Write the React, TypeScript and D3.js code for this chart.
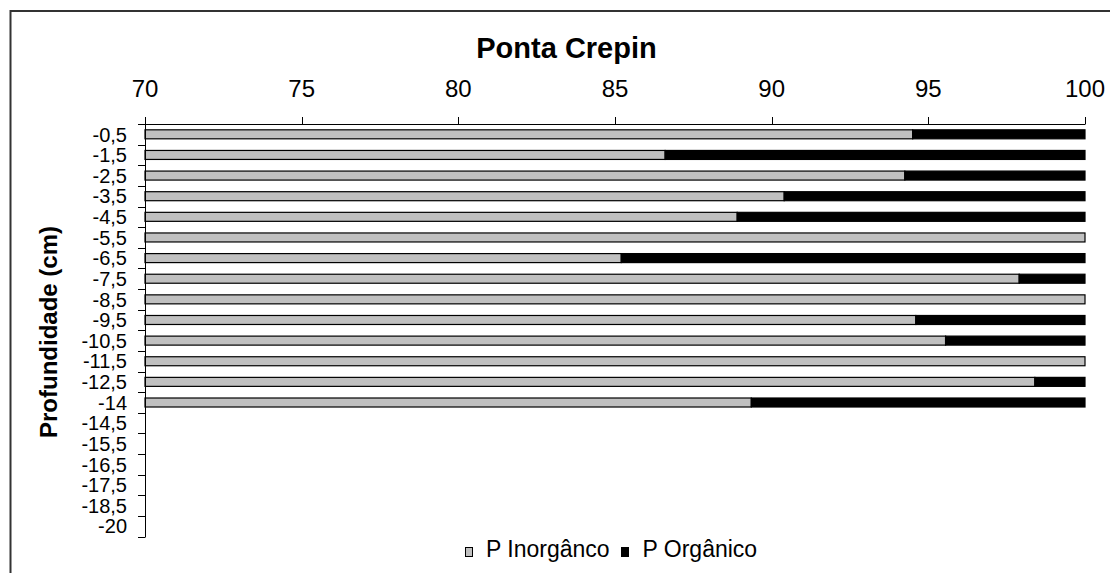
import React from "react";
import * as d3 from "d3";

const title = "Ponta Crepin";
const yTitle = "Profundidade (cm)";
const categories = ["-0,5","-1,5","-2,5","-3,5","-4,5","-5,5","-6,5","-7,5","-8,5","-9,5","-10,5","-11,5","-12,5","-14","-14,5","-15,5","-16,5","-17,5","-18,5","-20"];
const inorganic: (number | null)[] = [94.5, 86.6, 94.25, 90.4, 88.9, 100, 85.2, 97.9, 100, 94.6, 95.55, 100, 98.4, 89.35, null, null, null, null, null, null];
const organic: (number | null)[] = [5.5, 13.4, 5.75, 9.6, 11.1, 0, 14.8, 2.1, 0, 5.4, 4.45, 0, 1.6, 10.65, null, null, null, null, null, null];
const xTicks = [70, 75, 80, 85, 90, 95, 100];
const seriesNames = ["P Inorgânco", "P Orgânico"];
const seriesColors = ["#c0c0c0", "#000000"];

const W = 1110, H = 573;
const FONT = "'Liberation Sans', Arial, sans-serif";

export default function App() {
  const x = d3.scaleLinear().domain([70, 100]).range([145, 1085]).clamp(true);
  const y = d3.scaleBand().domain(categories).range([124, 536.6]).paddingInner(0).paddingOuter(0);
  const bw = y.bandwidth();
  const barH = 9;

  const rows = categories.map((c, i) => ({ c, inorg: inorganic[i], org: organic[i] }));
  const boundaries = d3.range(categories.length + 1).map((i) => 124 + i * bw);

  return (
    <svg width={W} height={H} style={{ position: "absolute", left: 0, top: 0, background: "#fff" }} fontFamily={FONT}>
      <rect x={0} y={0} width={W} height={H} fill="#fff" />
      <rect x={10.5} y={11} width={W + 20} height={H + 20} fill="none" stroke="#333" strokeWidth={2} />
      <text x={566.5} y={57.5} textAnchor="middle" fontSize={29} fontWeight="bold" fill="#000">{title}</text>

      {/* top x axis */}
      <line x1={x(70)} x2={x(100)} y1={124.5} y2={124.5} stroke="#000" strokeWidth={1} />
      {xTicks.map((t) => (
        <g key={t}>
          <line x1={Math.round(x(t)) + 0.5} x2={Math.round(x(t)) + 0.5} y1={117} y2={124.5} stroke="#000" strokeWidth={1} />
          <text x={x(t)} y={96.5} textAnchor="middle" fontSize={24} fill="#000">{t}</text>
        </g>
      ))}

      {/* bars */}
      {rows.map((r) => {
        if (r.inorg == null) return null;
        const cy = (y(r.c) as number) + bw / 2;
        const y0 = cy - barH / 2;
        const x0 = x(70);
        const x1 = x(r.inorg);
        const x2 = x(r.inorg + (r.org as number));
        return (
          <g key={r.c}>
            <rect x={x0} y={y0} width={Math.max(0, x1 - x0)} height={barH} fill={seriesColors[0]} stroke="#000" strokeWidth={1.2} />
            {x2 - x1 > 0.01 && (
              <rect x={x1} y={y0} width={x2 - x1} height={barH} fill={seriesColors[1]} stroke="#000" strokeWidth={1.2} />
            )}
          </g>
        );
      })}

      {/* left y axis */}
      <line x1={145.5} x2={145.5} y1={124} y2={537} stroke="#000" strokeWidth={1} />
      {boundaries.map((b, i) => (
        <line key={i} x1={138} x2={145.5} y1={Math.round(b) + 0.5} y2={Math.round(b) + 0.5} stroke="#000" strokeWidth={1} />
      ))}
      {categories.map((c) => (
        <text key={c} x={127} y={(y(c) as number) + bw / 2} dy="0.36em" textAnchor="end" fontSize={20} fill="#000">{c}</text>
      ))}

      <text transform={`translate(57,332) rotate(-90)`} textAnchor="middle" fontSize={24} fontWeight="bold" fill="#000">{yTitle}</text>

      {/* legend */}
      <rect x={465.5} y={547.5} width={7} height={9} fill={seriesColors[0]} stroke="#000" strokeWidth={1} />
      <text x={486} y={557} fontSize={23} fill="#000">{seriesNames[0]}</text>
      <rect x={621.5} y={547.5} width={7} height={9} fill={seriesColors[1]} stroke="#000" strokeWidth={1} />
      <text x={642.5} y={557} fontSize={23} fill="#000">{seriesNames[1]}</text>
    </svg>
  );
}
